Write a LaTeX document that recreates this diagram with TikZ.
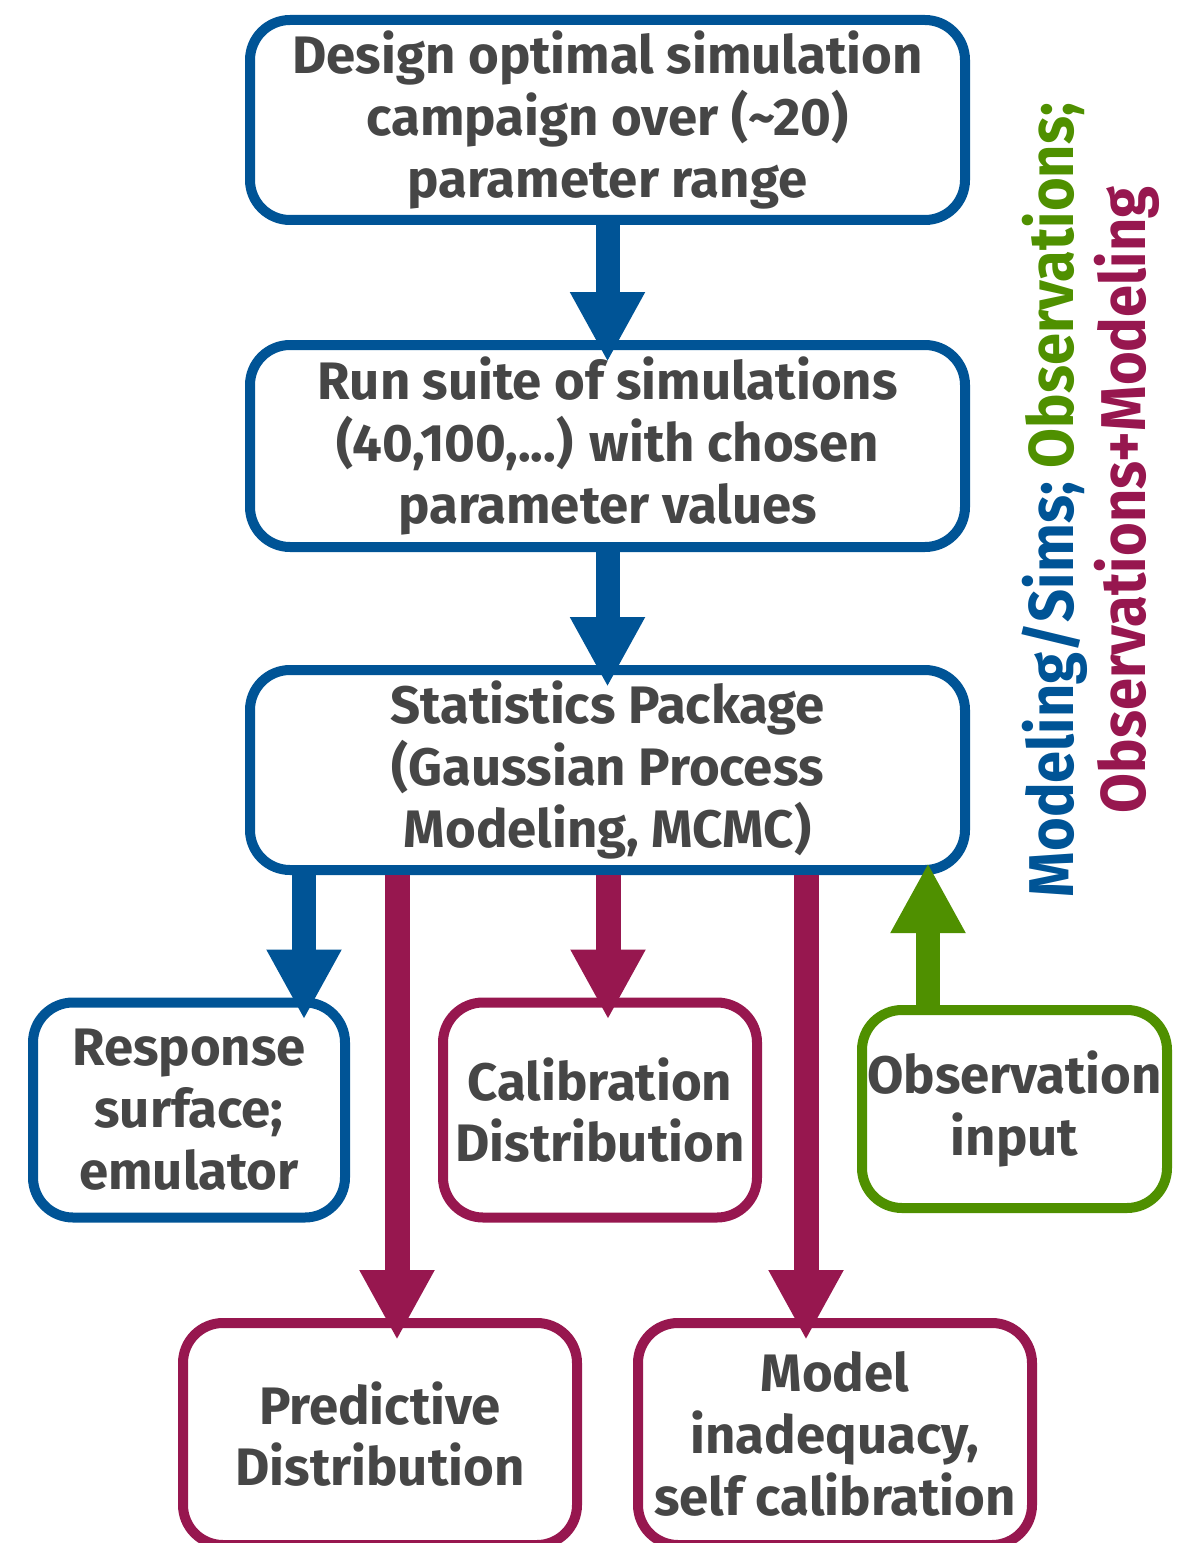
\documentclass[tikz,border=0pt]{standalone}
\usepackage{fontspec}
\setmainfont{Fira Sans}
\newfontfamily\narrowfont[FakeStretch=0.915]{Fira Sans}
\usetikzlibrary{arrows.meta}
\definecolor{simblue}{RGB}{0,84,150}
\definecolor{bothred}{RGB}{151,23,79}
\definecolor{obsgreen}{RGB}{79,144,0}
\definecolor{textgray}{RGB}{70,70,70}

\begin{document}
\begin{tikzpicture}[x=0.1mm, y=-0.1mm]
        \tikzstyle{box}=[draw, line width=1mm, rounded corners=4mm, align=center, inner sep=0pt, text=textgray, font=\fontsize{15}{17.6}\selectfont\bfseries]
        \tikzstyle{sim box}=[box, draw=simblue, minimum width=71.5mm, minimum height=20mm]
        \tikzstyle{small box}=[box, minimum width=31.2mm, minimum height=21.5mm]
        \tikzstyle{wide box}=[box, draw=bothred, minimum width=39.4mm, minimum height=22.2mm]
        \tikzstyle{block arrow}=[line width=2.4mm, -{Triangle[width=7mm,length=7mm]}, shorten >=-2.2mm]
        \tikzstyle{side label}=[rotate=90, inner sep=0pt, font=\fontsize{18}{20}\narrowfont\bfseries]

        % Frame of the page
        \useasboundingbox (0,0) rectangle (1179,1543);

        % Simulation chain
        \node[sim box] (design) at (607.5,120) {Design optimal simulation\\campaign over (\textasciitilde20)\\parameter range};
        \node[sim box, minimum height=20.2mm] (runs) at (607.5,446) {Run suite of simulations\\(40,100,...) with chosen\\parameter values};
        \node[sim box] (stats) at (607.5,770) {Statistics Package\\(Gaussian Process\\Modeling, MCMC)};

        % Outputs and inputs
        \node[small box, draw=simblue] (resp) at (189,1110) {Response\\surface;\\emulator};
        \node[small box, draw=bothred, minimum width=31.4mm] (calib) at (600,1110) {Calibration\\Distribution};
        \node[small box, draw=obsgreen, minimum width=30.5mm, minimum height=19.8mm] (obs) at (1014.5,1109) {Observation\\input};
        \node[wide box] (pred) at (380,1434) {Predictive\\Distribution};
        \node[wide box] (model) at (835,1434) {Model\\inadequacy,\\self calibration};

        % Columns of the arrows below the statistics box
        \foreach \name/\x in {xResp/304, xPred/397, xCalib/608, xModel/806, xObs/928}
            \coordinate (\name) at (\x,0);

        % Connect the chain
        \foreach \from/\to in {design/runs, runs/stats}
            \draw[block arrow, simblue] (\from) -- (\to);

        \draw[block arrow, simblue] (stats.south -| xResp) -- (resp.north -| xResp);
        \foreach \col/\to in {xPred/pred, xCalib/calib, xModel/model}
            \draw[block arrow, bothred, line width=2.5mm] (stats.south -| \col) -- (\to.north -| \col);
        \draw[block arrow, obsgreen, shorten >=-1.2mm] (obs.north -| xObs) -- (stats.south -| xObs);

        % Legend
        \node[side label] (legA) at (1055,500) {{\color{simblue}Modeling/Sims;} {\color{obsgreen}Observations;}};
        \node[side label, text=bothred] (legB) at (1127,500) {Observations+Modeling};
    \end{tikzpicture}
\end{document}
